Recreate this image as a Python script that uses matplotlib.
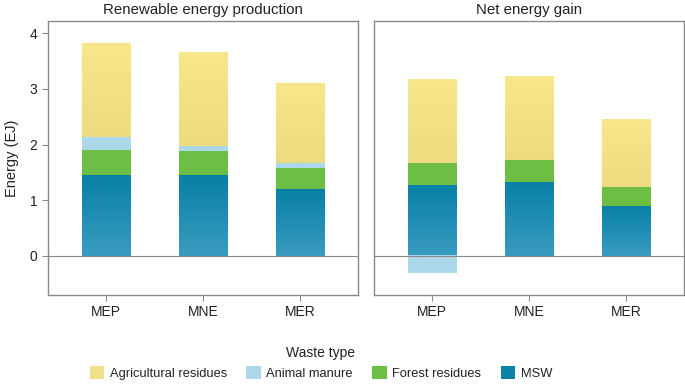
import numpy as np
import matplotlib
matplotlib.use("Agg")
import matplotlib.pyplot as plt
from matplotlib.colors import LinearSegmentedColormap
from matplotlib.patches import Patch

plt.rcParams["font.family"] = ["Liberation Sans", "DejaVu Sans"]

# Scenarios
SCENARIOS = ["MEP", "MNE", "MER"]
WASTE_TYPES = ["Agricultural residues", "Animal manure", "Forest residues", "MSW"]

# Renewable energy production (EJ), stacked bottom -> top
PROD_MSW = [1.46, 1.45, 1.19]
PROD_FOREST = [0.44, 0.44, 0.39]
PROD_MANURE = [0.23, 0.08, 0.08]
PROD_AGRI = [1.68, 1.69, 1.44]

# Net energy gain (EJ)
NET_MSW = [1.28, 1.33, 0.90]
NET_FOREST = [0.39, 0.39, 0.33]
NET_MANURE = [-0.31, 0.0, 0.0]
NET_AGRI = [1.50, 1.51, 1.21]

# colours: (top, bottom) for gradient fills
COL_AGRI = ("#f8e78a", "#ecdc7f")
COL_MANURE = ("#acd8ea", "#acd8ea")
COL_FOREST = ("#6dbe45", "#6dbe45")
COL_MSW = ("#0880a6", "#3a9bc0")
LEGEND_COLS = ["#efe08a", "#acd8ea", "#6dbe45", "#0a82a6"]

GRAY = "#8a8a8a"
BAR_W = 0.5


def grad_bar(ax, x, bottom, height, cols):
    """Barre avec degrade vertical (haut -> bas)."""
    if height == 0:
        return
    y0, y1 = bottom, bottom + height
    lo, hi = min(y0, y1), max(y0, y1)
    cmap = LinearSegmentedColormap.from_list("g", [cols[1], cols[0]])
    grad = np.linspace(0, 1, 64).reshape(-1, 1)
    ax.imshow(grad, cmap=cmap, origin="lower", aspect="auto",
              extent=(x - BAR_W / 2, x + BAR_W / 2, lo, hi), zorder=2,
              interpolation="bilinear")


def draw_panel(ax, msw, forest, manure, agri, title):
    xs = np.arange(len(SCENARIOS))
    for i, x in enumerate(xs):
        grad_bar(ax, x, 0, msw[i], COL_MSW)
        grad_bar(ax, x, msw[i], forest[i], COL_FOREST)
        if manure[i] < 0:
            grad_bar(ax, x, 0, manure[i], COL_MANURE)
            top = msw[i] + forest[i]
        else:
            grad_bar(ax, x, msw[i] + forest[i], manure[i], COL_MANURE)
            top = msw[i] + forest[i] + manure[i]
        grad_bar(ax, x, top, agri[i], COL_AGRI)
    ax.axhline(0, color=GRAY, lw=0.8, zorder=3)
    ax.set_xlim(-0.6, 2.6)
    ax.set_ylim(-0.71, 4.23)
    ax.set_xticks(xs)
    ax.set_xticklabels(SCENARIOS)
    ax.set_yticks([0, 1, 2, 3, 4])
    for s in ax.spines.values():
        s.set_color(GRAY)
        s.set_linewidth(1.0)
    ax.tick_params(colors=GRAY, labelcolor="#222222", labelsize=10,
                   length=4, width=0.8)
    ax.set_title(title, fontsize=10.8, color="#222222", pad=5)


fig = plt.figure(figsize=(6.85, 3.85), dpi=100)
ax1 = fig.add_axes([48 / 685, 90 / 385, 310 / 685, 274.3 / 385])
ax2 = fig.add_axes([374 / 685, 90 / 385, 310 / 685, 274.3 / 385])

draw_panel(ax1, PROD_MSW, PROD_FOREST, PROD_MANURE, PROD_AGRI,
           "Renewable energy production")
draw_panel(ax2, NET_MSW, NET_FOREST, NET_MANURE, NET_AGRI, "Net energy gain")
ax2.tick_params(axis="y", left=False, labelleft=False)
ax1.set_ylabel("Energy (EJ)", fontsize=10.5, color="#222222", labelpad=8)

handles = [Patch(facecolor=c, edgecolor="none") for c in LEGEND_COLS]
leg = fig.legend(handles, WASTE_TYPES, loc="center", ncol=4,
                 bbox_to_anchor=(321 / 685, 1 - 363 / 385),
                 frameon=False, fontsize=9.3, title="Waste type",
                 title_fontsize=10, handlelength=1.1, handleheight=1.2,
                 handletextpad=0.45, columnspacing=1.5, borderaxespad=0)
leg.get_title().set_color("#222222")
for t in leg.get_texts():
    t.set_color("#222222")

fig.savefig("out.png", dpi=100)
